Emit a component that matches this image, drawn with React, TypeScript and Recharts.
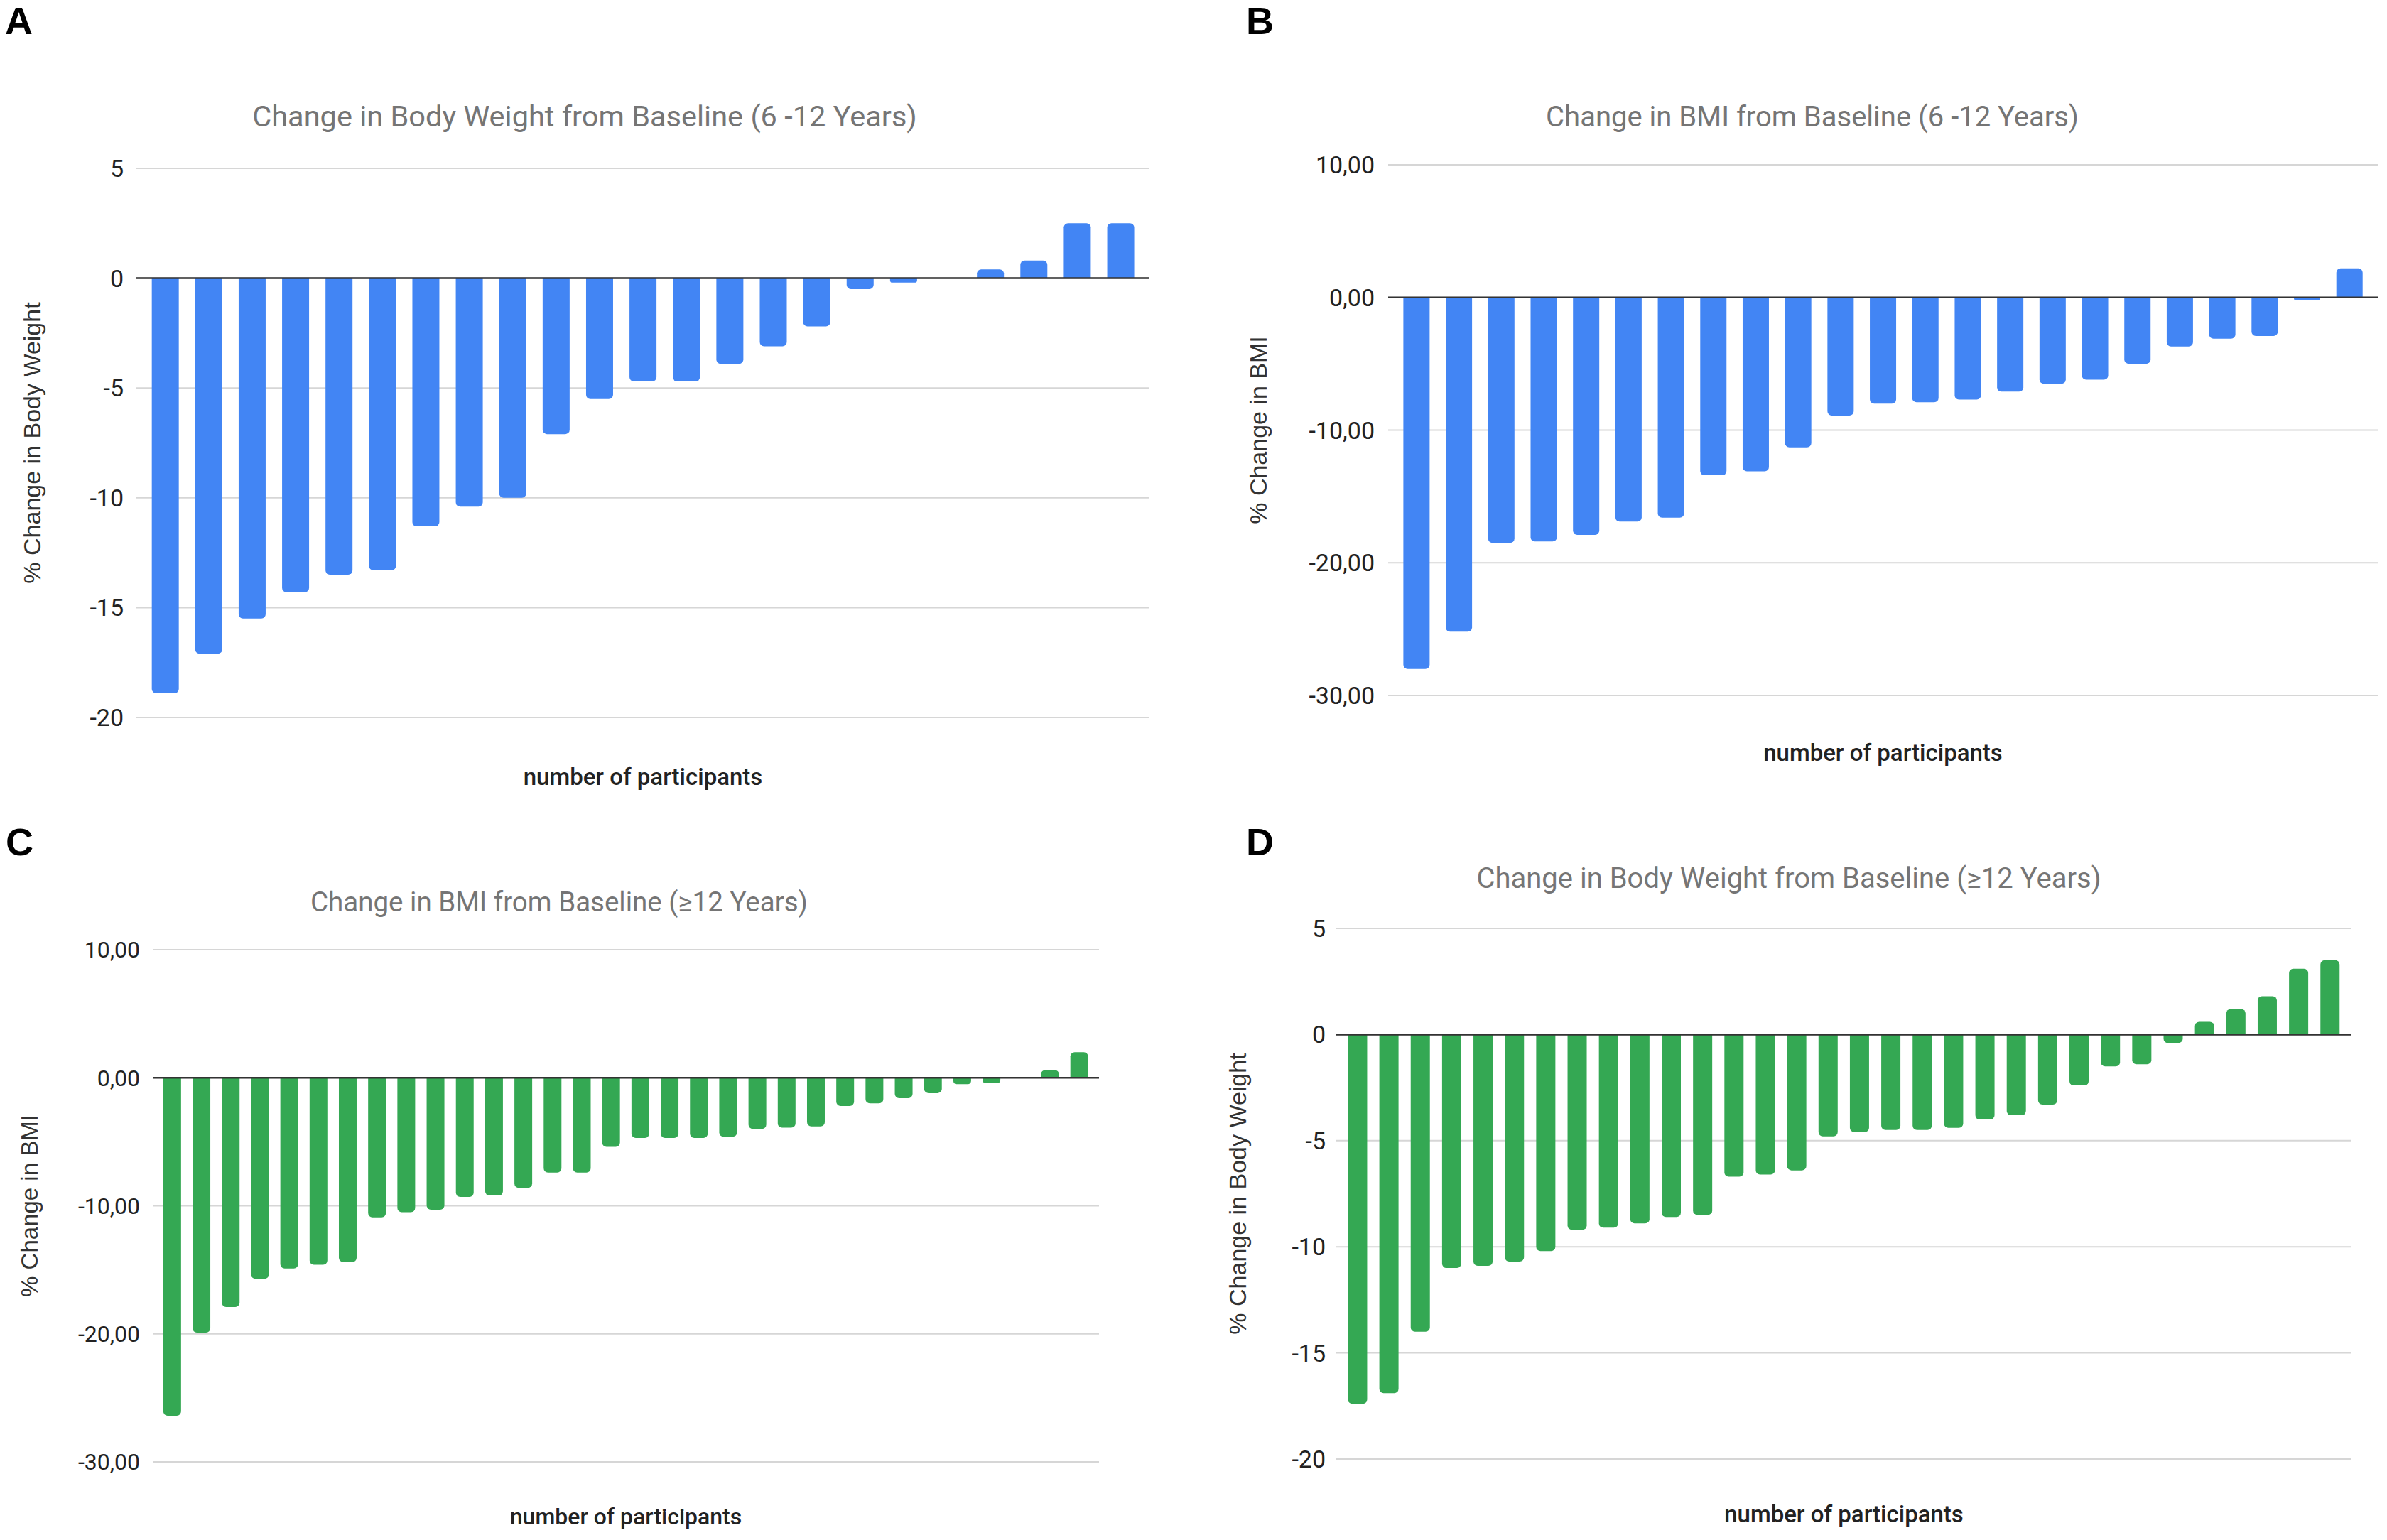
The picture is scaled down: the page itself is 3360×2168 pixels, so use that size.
import React from 'react';
import { BarChart, Bar, XAxis, YAxis, CartesianGrid, ReferenceLine, Label } from 'recharts';

// ---------- data ----------
const participantsA = ['1','2','3','4','5','6','7','8','9','10','11','12','13','14','15','16','17','18','19','20','21','22','23'];
const weightChangeA = [-18.9, -17.1, -15.5, -14.3, -13.5, -13.3, -11.3, -10.4, -10.0, -7.1, -5.5, -4.7, -4.7, -3.9, -3.1, -2.2, -0.5, -0.2, 0, 0.4, 0.8, 2.5, 2.5];
const ticksA = [5, 0, -5, -10, -15, -20];

const participantsB = ['1','2','3','4','5','6','7','8','9','10','11','12','13','14','15','16','17','18','19','20','21','22','23'];
const bmiChangeB = [-28.0, -25.2, -18.5, -18.4, -17.9, -16.9, -16.6, -13.4, -13.1, -11.3, -8.9, -8.0, -7.9, -7.7, -7.1, -6.5, -6.2, -5.0, -3.7, -3.1, -2.9, -0.2, 2.2];
const ticksB = [10, 0, -10, -20, -30];

const participantsC = ['1','2','3','4','5','6','7','8','9','10','11','12','13','14','15','16','17','18','19','20','21','22','23','24','25','26','27','28','29','30','31','32'];
const bmiChangeC = [-26.4, -19.9, -17.9, -15.7, -14.9, -14.6, -14.4, -10.9, -10.5, -10.3, -9.3, -9.2, -8.6, -7.4, -7.4, -5.4, -4.7, -4.7, -4.7, -4.6, -4.0, -3.9, -3.8, -2.2, -2.0, -1.6, -1.2, -0.5, -0.4, 0, 0.6, 2.0];
const ticksC = [10, 0, -10, -20, -30];

const participantsD = ['1','2','3','4','5','6','7','8','9','10','11','12','13','14','15','16','17','18','19','20','21','22','23','24','25','26','27','28','29','30','31','32'];
const weightChangeD = [-17.4, -16.9, -14.0, -11.0, -10.9, -10.7, -10.2, -9.2, -9.1, -8.9, -8.6, -8.5, -6.7, -6.6, -6.4, -4.8, -4.6, -4.5, -4.5, -4.4, -4.0, -3.8, -3.3, -2.4, -1.5, -1.4, -0.4, 0.6, 1.2, 1.8, 3.1, 3.5];
const ticksD = [5, 0, -5, -10, -15, -20];

const titles = [
  'Change in Body Weight from Baseline (6 -12 Years)',
  'Change in BMI from Baseline (6 -12 Years)',
  'Change in BMI from Baseline (\u226512 Years)',
  'Change in Body Weight from Baseline (\u226512 Years)',
];
const panelLetters = ['A', 'B', 'C', 'D'];

const BLUE = '#4285F4';
const GREEN = '#34A853';

const toRows = (cats: string[], vals: number[]) => cats.map((c, i) => ({ id: c, v: vals[i] }));
const commaFmt = (v: number) => v.toFixed(2).replace('.', ',');
const intFmt = (v: number) => String(v);

type PanelProps = {
  left: number; top: number; width: number; height: number;
  plotLeft: number; plotRight: number; plotTop: number; plotBottom: number;
  xBase: number; data: { id: string; v: number }[]; color: string;
  domain: [number, number]; ticks: number[]; fmt: (v: number) => string;
  yLabel: string; yLabelX: number; tickGap: number; pad: number;
  tickFs: number; xFs: number; yFs: number;
};

function Panel(p: PanelProps) {
  return (
    <div style={{ position: 'absolute', left: p.left, top: p.top, width: p.width, height: p.height }}>
      <BarChart
        width={p.width}
        height={p.height}
        data={p.data}
        barCategoryGap="19.1%"
        margin={{ top: p.plotTop - p.top, right: p.left + p.width - p.plotRight, bottom: p.top + p.height - p.xBase, left: 0 }}
      >
        <CartesianGrid vertical={false} stroke="#d6d6d6" strokeWidth={2} />
        <XAxis
          dataKey="id"
          type="category"
          tick={false}
          axisLine={false}
          tickLine={false}
          height={p.xBase - p.plotBottom}
          padding={{ left: p.pad, right: p.pad }}
        >
          <Label value="number of participants" position="insideBottom" offset={0} fill="#222" fontSize={p.xFs} fontWeight={500} fontFamily="Roboto" />
        </XAxis>
        <YAxis
          type="number"
          domain={p.domain}
          ticks={p.ticks}
          interval={0}
          tickFormatter={p.fmt}
          width={p.plotLeft - p.left}
          axisLine={false}
          tickLine={false}
          tickSize={0}
          tickMargin={p.tickGap}
          tick={{ fill: '#222', fontSize: p.tickFs, fontFamily: 'Roboto' }}
        >
          <Label
            value={p.yLabel}
            angle={-90}
            position="insideLeft"
            offset={p.yLabelX - p.left}
            fill="#333"
            fontSize={p.yFs}
            fontFamily="Liberation Sans, Arial, sans-serif"
            style={{ textAnchor: 'middle' }}
          />
        </YAxis>
        <Bar dataKey="v" fill={p.color} radius={[6, 6, 0, 0]} isAnimationActive={false} />
        <ReferenceLine y={0} stroke="#333" strokeWidth={2.5} />
      </BarChart>
    </div>
  );
}

export default function App() {
  return (
    <div style={{ position: 'absolute', left: 0, top: 0, width: 3360, height: 2168, background: '#fff', overflow: 'hidden' }}>
      <Panel
        left={0} top={0} width={1640} height={1130}
        plotLeft={192} plotRight={1618} plotTop={237} plotBottom={1010} xBase={1105}
        data={toRows(participantsA, weightChangeA)} color={BLUE}
        domain={[-20, 5]} ticks={ticksA} fmt={intFmt}
        yLabel="% Change in Body Weight" yLabelX={45} tickGap={18} pad={10}
        tickFs={34} xFs={33} yFs={34}
      />
      <Panel
        left={1690} top={0} width={1670} height={1100}
        plotLeft={1954} plotRight={3347} plotTop={232} plotBottom={979} xBase={1071}
        data={toRows(participantsB, bmiChangeB)} color={BLUE}
        domain={[-30, 10]} ticks={ticksB} fmt={commaFmt}
        yLabel="% Change in BMI" yLabelX={1771} tickGap={19} pad={10}
        tickFs={34} xFs={33} yFs={34}
      />
      <Panel
        left={0} top={1140} width={1640} height={1020}
        plotLeft={215} plotRight={1547} plotTop={1337} plotBottom={2058} xBase={2146}
        data={toRows(participantsC, bmiChangeC)} color={GREEN}
        domain={[-30, 10]} ticks={ticksC} fmt={commaFmt}
        yLabel="% Change in BMI" yLabelX={41} tickGap={18} pad={7}
        tickFs={32} xFs={32} yFs={33}
      />
      <Panel
        left={1690} top={1140} width={1670} height={1020}
        plotLeft={1881} plotRight={3310} plotTop={1307} plotBottom={2054} xBase={2143}
        data={toRows(participantsD, weightChangeD)} color={GREEN}
        domain={[-20, 5]} ticks={ticksD} fmt={intFmt}
        yLabel="% Change in Body Weight" yLabelX={1742} tickGap={15} pad={8}
        tickFs={34} xFs={33} yFs={34}
      />
      <svg width={3360} height={2168} style={{ position: 'absolute', left: 0, top: 0, pointerEvents: 'none' }}>
        <g fontFamily="Liberation Sans, Arial, sans-serif" fontWeight="bold" fontSize={54} fill="#000">
          <text x={7} y={48}>{panelLetters[0]}</text>
          <text x={1754} y={48}>{panelLetters[1]}</text>
          <text x={8} y={1204}>{panelLetters[2]}</text>
          <text x={1754} y={1204}>{panelLetters[3]}</text>
        </g>
        <g fontFamily="Roboto" fill="#757575" textAnchor="middle">
          <text x={823} y={178} fontSize={41.5}>{titles[0]}</text>
          <text x={2551} y={178} fontSize={40}>{titles[1]}</text>
          <text x={787} y={1283} fontSize={38.5}>{titles[2]}</text>
          <text x={2518} y={1250} fontSize={40}>{titles[3]}</text>
        </g>
      </svg>
    </div>
  );
}
